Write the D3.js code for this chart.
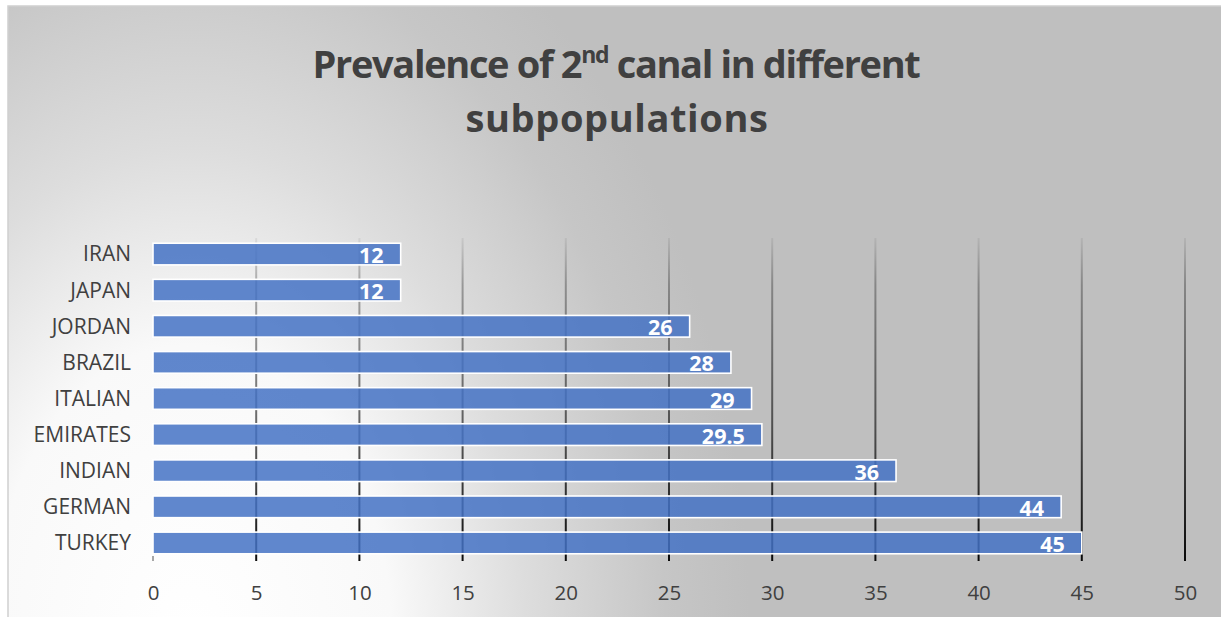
<!DOCTYPE html>
<html>
<head>
<meta charset="utf-8">
<script src="https://cdn.jsdelivr.net/npm/d3@7"></script>
<style>
  html, body { margin: 0; padding: 0; background: #ffffff; }
  svg { display: block; }
</style>
</head>
<body>
<svg id="chart" width="1221" height="617"></svg>
<script>
// Prevalence (%) of a second canal, by subpopulation
const categories = ["IRAN", "JAPAN", "JORDAN", "BRAZIL", "ITALIAN", "EMIRATES", "INDIAN", "GERMAN", "TURKEY"];
const values = [12, 12, 26, 28, 29, 29.5, 36, 44, 45];
const tickValues = [0, 5, 10, 15, 20, 25, 30, 35, 40, 45, 50];
const valueLabels = ["12", "12", "26", "28", "29", "29.5", "36", "44", "45"];

const svg = d3.select("#chart");
const W = 1221, H = 617;
const plot = { left: 153, right: 1185, top: 236, bottom: 561 };

const defs = svg.append("defs");

// Soft corner-lit background: light at the lower left, grey elsewhere
const bg = defs.append("radialGradient")
  .attr("id", "bgGrad")
  .attr("gradientUnits", "userSpaceOnUse")
  .attr("cx", 0).attr("cy", 0).attr("r", 1)
  .attr("gradientTransform", "translate(190,640) scale(560,820)");
[[0, "#ffffff"], [0.36, "#f9f9f9"], [0.6, "#dddddd"], [0.85, "#c6c6c6"], [1, "#bfbfbf"]]
  .forEach(([o, c]) => bg.append("stop").attr("offset", o).attr("stop-color", c));

// Gridlines fade in from the top of the plot down to the axis
const gridGrad = defs.append("linearGradient")
  .attr("id", "gridGrad")
  .attr("gradientUnits", "userSpaceOnUse")
  .attr("x1", 0).attr("y1", plot.top).attr("x2", 0).attr("y2", plot.bottom);
gridGrad.append("stop").attr("offset", 0).attr("stop-color", "#000").attr("stop-opacity", 0.05);
gridGrad.append("stop").attr("offset", 0.15).attr("stop-color", "#000").attr("stop-opacity", 0.3);
gridGrad.append("stop").attr("offset", 0.6).attr("stop-color", "#000").attr("stop-opacity", 0.6);
gridGrad.append("stop").attr("offset", 1).attr("stop-color", "#000").attr("stop-opacity", 0.95);

// Chart area with its thin frame
svg.append("rect")
  .attr("x", 8).attr("y", 6)
  .attr("width", W - 8 + 2).attr("height", H - 6 + 2)
  .attr("fill", "url(#bgGrad)")
  .attr("stroke", "#d0d0d0")
  .attr("stroke-width", 1.5);

// Scales
const x = d3.scaleLinear().domain([0, 50]).range([plot.left, plot.right]);
const y = d3.scaleBand().domain(categories).range([plot.top, plot.bottom])
  .paddingInner(0.4).paddingOuter(0.2);

// Title
const title = svg.append("text")
  .attr("text-anchor", "middle")
  .attr("font-family", "'Open Sans', sans-serif")
  .attr("font-weight", "bold")
  .attr("font-size", 38)
  .attr("fill", "#404040");
const line1 = title.append("tspan").attr("x", 616).attr("y", 78).attr("letter-spacing", -1.35);
line1.append("tspan").text("Prevalence of 2");
line1.append("tspan").attr("font-size", 23).attr("dy", -15).text("nd");
line1.append("tspan").attr("dy", 15).text(" canal in different");
title.append("tspan").attr("x", 617).attr("y", 132).attr("letter-spacing", 0.6).text("subpopulations");

// Vertical gridlines
svg.append("g")
  .selectAll("line")
  .data(tickValues.filter(d => d > 0))
  .join("line")
  .attr("x1", d => x(d)).attr("x2", d => x(d))
  .attr("y1", plot.top + 2).attr("y2", plot.bottom)
  .attr("stroke", "url(#gridGrad)")
  .attr("stroke-width", 2);

// Small mark at the origin of the value axis
svg.append("line")
  .attr("x1", x(0)).attr("x2", x(0))
  .attr("y1", plot.bottom - 5).attr("y2", plot.bottom)
  .attr("stroke", "#8a8a8a").attr("stroke-width", 1.5);

// Value-axis tick labels
const xAxis = d3.axisBottom(x).tickValues(tickValues).tickSize(0).tickPadding(0);
const gx = svg.append("g")
  .attr("transform", `translate(0,${plot.bottom})`)
  .call(xAxis);
gx.select(".domain").remove();
gx.selectAll("text")
  .attr("y", 39)
  .attr("dy", 0)
  .attr("font-family", "'Open Sans', sans-serif")
  .attr("font-size", 20.5)
  .attr("fill", "#404040");

// Category labels
const yAxis = d3.axisLeft(y).tickSize(0).tickPadding(0);
const gy = svg.append("g")
  .attr("transform", `translate(131,0)`)
  .call(yAxis);
gy.select(".domain").remove();
gy.selectAll("text")
  .attr("x", 0)
  .attr("dy", "0.35em")
  .attr("font-family", "'Open Sans', sans-serif")
  .attr("font-size", 21)
  .attr("fill", "#404040");

// Bars
svg.append("g")
  .selectAll("rect")
  .data(categories)
  .join("rect")
  .attr("x", x(0))
  .attr("y", d => y(d))
  .attr("width", (d, i) => x(values[i]) - x(0))
  .attr("height", y.bandwidth())
  .attr("fill", "#4472c4")
  .attr("fill-opacity", 0.85)
  .attr("stroke", "#ffffff")
  .attr("stroke-width", 1.6);

// Value labels inside the bar ends
svg.append("g")
  .selectAll("text")
  .data(categories)
  .join("text")
  .attr("x", (d, i) => x(values[i]) - 17)
  .attr("y", d => y(d) + y.bandwidth() / 2)
  .attr("dy", "0.42em")
  .attr("text-anchor", "end")
  .attr("font-family", "'Open Sans', sans-serif")
  .attr("font-weight", "bold")
  .attr("font-size", 21.5)
  .attr("fill", "#ffffff")
  .text((d, i) => valueLabels[i]);
</script>
</body>
</html>
